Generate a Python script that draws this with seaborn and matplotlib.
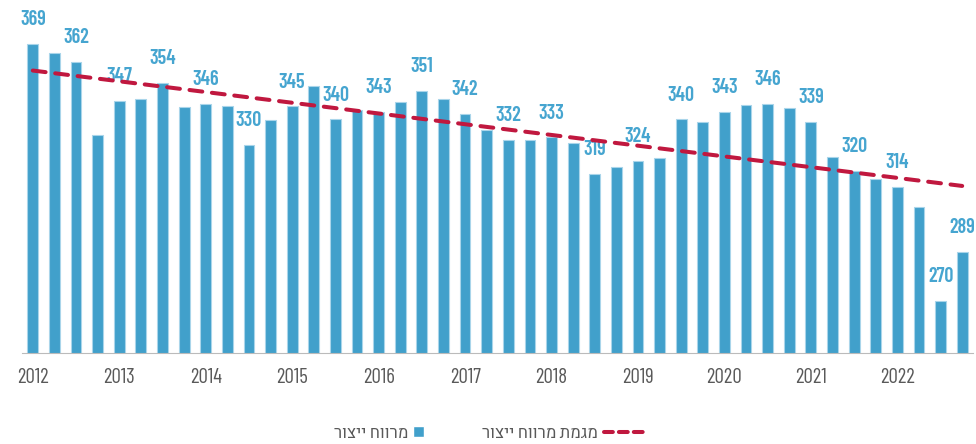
import pandas as pd
import matplotlib.pyplot as plt
import seaborn as sns
from matplotlib.patches import Patch
from matplotlib.lines import Line2D

# quarterly production margin, 2012 Q1 .. 2022 Q4
years = [str(y) for y in range(2012, 2023)]
quarters = [f'{y}Q{q}' for y in years for q in range(1, 5)]
margin = [369, 365.6, 362, 334, 347, 348, 354, 344.6, 346, 345, 330, 339.7,
          345, 353, 340, 343.5, 343, 346.7, 351, 348, 342, 336, 332, 332,
          333, 331, 319, 321.5, 324, 325, 340, 338.8, 343, 345.5, 346, 344.5,
          339, 325.6, 320, 317, 314, 306, 270, 289]
# bars that carry a value label
labeled = list(range(0, 42, 2)) + [42, 43]
# trend line, value at first and last quarter
trend = [358.8, 314.3]

bar_name = 'מרווח ייצור'
trend_name = 'מגמת מרווח ייצור'

bar_color = '#41A0CB'
label_color = '#46A5D0'
trend_color = '#C0183F'
grey = '#595959'

sns.set_style('white')
plt.rcParams['font.family'] = ['Barlow Condensed', 'Heebo', 'Liberation Sans', 'DejaVu Sans']

df = pd.DataFrame({'quarter': quarters, 'margin': margin})

fig = plt.figure(figsize=(9.76, 4.44), dpi=100)
ax = fig.add_axes([22 / 976, (444 - 352.7) / 444, 951 / 976, 352.7 / 444])

sns.barplot(data=df, x='quarter', y='margin', order=quarters, color=bar_color,
            saturation=1, width=0.5, edgecolor='#a9d5ea', linewidth=0.8, ax=ax)

ax.plot([0, len(margin) - 1], trend, color=trend_color, lw=2.9,
        dashes=(3.2, 2.4), dash_capstyle='round', zorder=5)

for i in labeled:
    ax.annotate(f'{margin[i]:.0f}', (i, margin[i]), xytext=(0, 13.5),
                textcoords='offset points', ha='center', va='baseline',
                fontsize=14.5, fontweight='semibold', color=label_color,
                annotation_clip=False)

ax.set_ylim(250, 386)
ax.set_xlim(-0.5, len(margin) - 0.5)
sns.despine(ax=ax, left=True)
ax.spines['bottom'].set_color('#bbbbbb')
ax.set_yticks([])
ax.set_xticks(range(0, len(margin), 4))
ax.set_xticklabels(years)
ax.set_xticks([i - 0.5 for i in range(len(margin) + 1)], minor=True)
ax.tick_params(axis='x', which='major', length=0, pad=11, labelsize=15, labelcolor=grey)
ax.tick_params(axis='x', which='minor', length=6, width=1, color='#bbbbbb')
ax.set_xlabel('')
ax.set_ylabel('')

# legend, right-to-left
leg1 = fig.legend(handles=[Patch(facecolor=bar_color, label=bar_name[::-1])],
                  loc='center right', bbox_to_anchor=(424 / 976, 1 - 433 / 444),
                  markerfirst=False, handlelength=0.65, handleheight=0.65,
                  handletextpad=0.3, frameon=False, borderpad=0, borderaxespad=0,
                  fontsize=12, labelcolor=grey)
leg2 = fig.legend(handles=[Line2D([], [], color=trend_color, lw=2.9, dashes=(2.2, 1.5),
                                  dash_capstyle='round', label=trend_name[::-1])],
                  loc='center right', bbox_to_anchor=(646 / 976, 1 - 433 / 444),
                  markerfirst=False, handlelength=2.5, handletextpad=0.4,
                  frameon=False, borderpad=0, borderaxespad=0,
                  fontsize=12, labelcolor=grey)

plt.savefig('out.png', dpi=100)
